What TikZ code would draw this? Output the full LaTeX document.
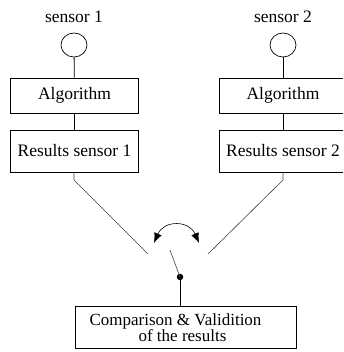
\documentclass[tikz,border=0pt]{standalone}
\usepackage{fontspec}
\setmainfont{Liberation Serif}
\usetikzlibrary{arrows.meta,shapes.geometric}
\begin{document}
\begin{tikzpicture}[x=1pt,y=-1pt,
  txt/.style={font=\fontsize{17.5}{19}\selectfont, inner sep=0pt},
  sensorc/.style={draw, ellipse, minimum width=26pt, minimum height=24pt, inner sep=0pt, line width=0.7pt},
  boxa/.style={draw, line width=0.8pt, minimum width=128pt, minimum height=35pt, inner sep=0pt, font=\fontsize{17.5}{19}\selectfont},
  boxb/.style={draw, line width=0.8pt, minimum width=128pt, minimum height=42pt, inner sep=0pt, font=\fontsize{17.5}{19}\selectfont},
  wire/.style={line width=0.8pt},
  diag/.style={line width=0.6pt, draw=black!75},
]
\useasboundingbox (0,0) rectangle (343,352);
\clip (0,0) rectangle (343,352);
% left column
\node[txt] (s1) at (74,17) {sensor 1};
\node[sensorc] (c1) at (74,45) {};
\node[boxa] (a1) at (74.5,95.5) {Algorithm};
\node[boxb] (r1) at (74.5,151) {Results sensor 1};
% right column
\node[txt] (s2) at (283,17) {sensor 2};
\node[sensorc] (c2) at (283,45) {};
\node[boxa] (a2) at (283,95.5) {Algorithm};
\node[boxb] (r2) at (283,151) {Results sensor 2};
% connectors
\draw[wire] (c1) -- (a1);
\draw[wire] (a1) -- (r1);
\draw[wire] (c2) -- (a2);
\draw[wire] (a2) -- (r2);
\coordinate (k1) at (74,180);
\coordinate (e1) at (148,254);
\coordinate (k2) at (283,180);
\coordinate (e2) at (208,254);
\draw[diag] (r1.south -| k1) -- (k1) -- (e1);
\draw[diag] (r2.south -| k2) -- (k2) -- (e2);
% switch
\coordinate (sw) at (170,250);
\node[circle, fill=black, minimum size=6.5pt, inner sep=0pt] (dot) at (180,277) {};
\draw[diag] (dot.center) -- (sw);
% bottom box
\node[draw, line width=0.8pt, minimum width=221pt, minimum height=42pt, inner sep=0pt] (cv) at (185.5,327) {};
\node[inner sep=0pt, font=\fontsize{17}{15.5}\selectfont, align=center] (cvt) at (175.5,327.5) {Comparison \& Validition\\\hspace*{14pt}of the results};
\draw[wire] (dot) -- (dot |- cv.north);
% arc arrow
\coordinate (al) at (154,243);
\coordinate (ar) at (199,243);
\draw[line width=0.6pt, {Latex[length=10pt,width=8pt]}-{Latex[length=10pt,width=8pt]}] (al) .. controls (164,220) and (189,220) .. (ar);
\end{tikzpicture}
\end{document}
